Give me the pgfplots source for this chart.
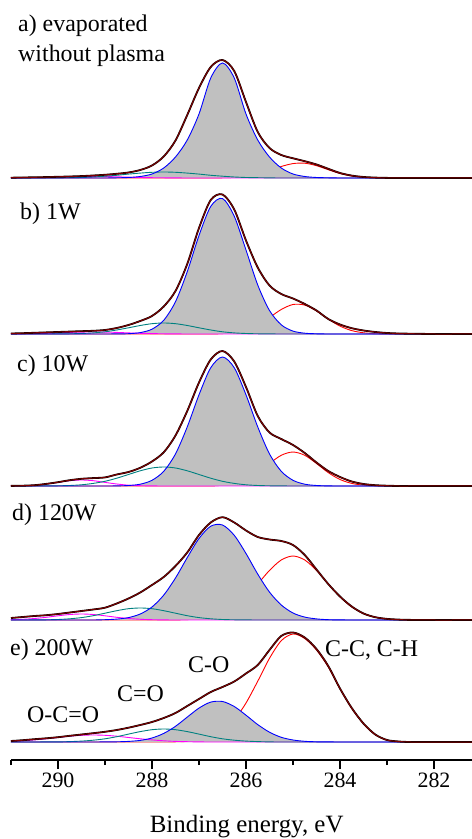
\documentclass[border=0pt]{standalone}
\usepackage{pgfplots}
\pgfplotsset{compat=1.18}
\usepackage{pgfplotstable}
\usepackage{fontspec}
\setmainfont{Liberation Serif}
\definecolor{cblue}{RGB}{0,0,255}
\definecolor{cred}{RGB}{255,0,0}
\definecolor{cteal}{RGB}{0,128,128}
\definecolor{cmag}{RGB}{255,0,255}
\definecolor{cdred}{RGB}{128,0,0}
\definecolor{csilver}{RGB}{192,192,192}

% columns: E = binding energy, B = C-O, R = C-C/C-H, T = C=O, M = O-C=O, S = measured/envelope
\pgfplotstableread{
E B R T M S
291.00 0 0 0 0.1 0.3
290.75 0 0 0 0.2 0.5
290.50 0 0 0 0.3 0.7
290.25 0 0 0 0.5 0.9
290.00 0 0 0.1 0.8 1.2
289.75 0 0 0.3 1.2 1.5
289.50 0 0 0.5 1.4 1.9
289.25 0 0 1.0 1.5 2.5
289.00 0 0 1.8 1.4 3.2
288.75 0.2 0 2.7 1.2 4.2
288.50 0.5 0 3.9 0.8 5.5
288.25 1.5 0 4.9 0.5 8.0
288.00 4.0 0 5.7 0.3 12.5
287.75 10.0 0 6.0 0.2 21.5
287.50 21.0 0 5.7 0.1 37.5
287.25 38.0 0 4.9 0 63.0
287.00 64.0 0 3.9 0 90.0
286.75 100.0 0 2.7 0 111.0
286.50 115.0 0.2 1.8 0 118.0
286.25 100.0 0.6 1.0 0 107.0
286.00 64.0 1.7 0.5 0 76.0
285.75 38.0 3.9 0.3 0 46.0
285.50 21.0 7.5 0.1 0 30.0
285.25 10.0 11.5 0 0 23.0
285.00 4.0 14.4 0 0 19.7
284.75 1.5 14.8 0 0 16.8
284.50 0.5 12.3 0 0 13.5
284.25 0.2 8.3 0 0 9.2
284.00 0 4.5 0 0 5.0
283.75 0 2.0 0 0 2.4
283.50 0 0.7 0 0 1.0
283.25 0 0.2 0 0 0.4
283.00 0 0 0 0 0.1
282.75 0 0 0 0 0
282.50 0 0 0 0 0
282.00 0 0 0 0 0
281.50 0 0 0 0 0
281.00 0 0 0 0 0
}\tabA

\pgfplotstableread{
E B R T M S
291.00 0 0 0 0.1 0.5
290.75 0 0 0 0.2 0.8
290.50 0 0 0 0.4 1.2
290.25 0 0 0 0.7 1.6
290.00 0 0 0.1 1.1 2.0
289.75 0 0 0.2 1.6 2.4
289.50 0 0 0.5 1.9 2.8
289.25 0 0 1.1 2.0 3.2
289.00 0 0 2.2 1.9 4.0
288.75 0.1 0 4.0 1.6 6.0
288.50 0.3 0 6.2 1.1 9.0
288.25 1.4 0 8.5 0.7 13.0
288.00 4.8 0 10.3 0.4 18.0
287.75 13.7 0 11.0 0.2 27.5
287.50 32.3 0 10.3 0.1 43.0
287.25 62.3 0 8.5 0 70.0
287.00 98.5 0 6.2 0 106.0
286.75 127.6 0 4.0 0 134.0
286.50 135.5 0.4 2.2 0 139.5
286.25 117.8 1.5 1.1 0 124.5
286.00 84.0 4.1 0.5 0 93.5
285.75 49.0 9.1 0.2 0 66.5
285.50 23.5 16.5 0.1 0 48.5
285.25 9.2 24.5 0 0 40.0
285.00 2.9 29.5 0 0 35.5
284.75 0.8 28.9 0 0 30.0
284.50 0.2 23.0 0 0 23.5
284.25 0 14.9 0 0 15.0
284.00 0 7.9 0 0 9.5
283.75 0 3.4 0 0 5.8
283.50 0 1.2 0 0 3.5
283.25 0 0.3 0 0 2.0
283.00 0 0.1 0 0 1.0
282.75 0 0 0 0 0.5
282.50 0 0 0 0 0.3
282.00 0 0 0 0 0
281.50 0 0 0 0 0
281.00 0 0 0 0 0
}\tabB

\pgfplotstableread{
E B R T M S
291.00 0 0 0 0.1 0.1
290.75 0 0 0 0.3 0.3
290.50 0 0 0 0.8 0.8
290.25 0 0 0.1 2.0 2.1
290.00 0 0 0.2 3.6 3.8
289.75 0 0 0.5 5.3 5.8
289.50 0 0 1.2 6.0 7.2
289.25 0 0 2.6 5.3 7.9
289.00 0 0 4.7 3.6 8.6
288.75 0.1 0 7.8 2.0 11.5
288.50 0.5 0 11.5 0.8 14.0
288.25 1.8 0 15.2 0.3 18.2
288.00 5.7 0 18.0 0.1 24.5
287.75 14.7 0 19.0 0 33.7
287.50 32.1 0 18.0 0 50.5
287.25 59.1 0 15.2 0 75.0
287.00 91.2 0 11.5 0 103.5
286.75 118.3 0 7.8 0 126.5
286.50 129.0 0.8 4.7 0 135.0
286.25 118.3 2.6 2.6 0 124.5
286.00 91.2 6.5 1.2 0 99.0
285.75 59.1 13.4 0.5 0 70.0
285.50 32.1 22.5 0.2 0 53.5
285.25 14.7 30.7 0.1 0 47.0
285.00 5.7 34.0 0 0 41.0
284.75 1.8 30.7 0 0 33.0
284.50 0.5 22.5 0 0 23.5
284.25 0.1 13.4 0 0 15.0
284.00 0 6.5 0 0 9.0
283.75 0 2.6 0 0 4.5
283.50 0 0.8 0 0 2.0
283.25 0 0.2 0 0 0.8
283.00 0 0 0 0 0.3
282.75 0 0 0 0 0
282.50 0 0 0 0 0
282.00 0 0 0 0 0
281.50 0 0 0 0 0
281.00 0 0 0 0 0
}\tabC

\pgfplotstableread{
E B R T M S
291.00 0 0 0 0.3 2.0
290.75 0 0 0 0.7 3.0
290.50 0 0 0.1 1.5 4.0
290.25 0 0 0.2 2.7 4.8
290.00 0 0 0.5 4.2 6.0
289.75 0 0 1.2 5.5 7.5
289.50 0 0 2.4 6.0 9.0
289.25 0 0 4.3 5.5 10.5
289.00 0.3 0 6.8 4.2 12.3
288.75 0.9 0 9.3 2.7 16.5
288.50 2.4 0 11.3 1.5 21.5
288.25 6.0 0 12.0 0.7 27.5
288.00 13.0 0 11.3 0.3 35.0
287.75 24.9 0 9.3 0.1 43.0
287.50 42.0 0.1 6.8 0 54.0
287.25 62.4 0.4 4.3 0 67.5
287.00 81.5 1.1 2.4 0 85.0
286.75 93.8 2.8 1.2 0 97.5
286.50 95.0 6.4 0.5 0 102.8
286.25 84.7 13.0 0.2 0 97.5
286.00 66.5 23.1 0.1 0 89.5
285.75 45.9 36.0 0 0 83.0
285.50 27.9 49.6 0 0 80.5
285.25 15.0 60.0 0 0 79.0
285.00 7.0 64.0 0 0 75.0
284.75 2.9 60.0 0 0 65.0
284.50 1.1 49.6 0 0 50.5
284.25 0.3 36.0 0 0 36.0
284.00 0.1 23.1 0 0 23.5
283.75 0 13.0 0 0 13.5
283.50 0 6.4 0 0 6.5
283.25 0 2.8 0 0 2.8
283.00 0 1.1 0 0 1.1
282.75 0 0.4 0 0 0.4
282.50 0 0.1 0 0 0.1
282.00 0 0 0 0 0
281.50 0 0 0 0 0
281.00 0 0 0 0 0
}\tabD

\pgfplotstableread{
E B R T M S
291.00 0 0 0 0.6 1.0
290.75 0 0 0 1.2 1.8
290.50 0 0 0 2.1 2.8
290.25 0 0 0.1 3.2 3.7
290.00 0 0 0.1 4.5 4.8
289.75 0 0 0.4 5.8 6.2
289.50 0 0 0.9 6.7 7.5
289.25 0 0 1.8 7.0 8.8
289.00 0.1 0 3.2 6.7 10.2
288.75 0.2 0 5.3 5.8 12.0
288.50 0.6 0 7.9 4.5 14.3
288.25 1.6 0 10.4 3.2 17.0
288.00 4.0 0 12.3 2.1 20.0
287.75 8.6 0.1 13.0 1.2 24.0
287.50 15.7 0.2 12.3 0.6 29.0
287.25 24.9 0.6 10.4 0.3 36.0
287.00 33.9 1.8 7.9 0.1 43.0
286.75 39.9 4.8 5.3 0 50.0
286.50 40.5 10.9 3.2 0 55.0
286.25 35.5 21.9 1.8 0 60.5
286.00 26.8 39.0 0.9 0 68.5
285.75 17.4 60.8 0.4 0 77.0
285.50 9.8 83.7 0.1 0 92.0
285.25 4.7 101.3 0 0 106.0
285.00 2.0 108.0 0 0 109.5
284.75 0.7 103.5 0 0 104.5
284.50 0.2 92.0 0 0 93.0
284.25 0.1 75.0 0 0 76.0
284.00 0 53.0 0 0 53.5
283.75 0 33.5 0 0 34.0
283.50 0 18.0 0 0 18.5
283.25 0 7.2 0 0 7.5
283.00 0 1.8 0 0 2.0
282.75 0 0.4 0 0 0.5
282.50 0 0 0 0 0
282.00 0 0 0 0 0
281.50 0 0 0 0 0
281.00 0 0 0 0 0
}\tabE

\pgfplotsset{
  panel/.style={x=47bp, y=1bp, xmin=281.2, xmax=291, x dir=reverse,
    ymin=0, ymax=150, hide axis, clip=false, anchor=south west},
  comp/.style={mark=none, smooth, line width=0.9bp},
}

\newcommand{\panel}[2]{%
\begin{axis}[panel, at={(0,#2)}]
\addplot[comp, cred] table[x=E,y=R]{#1};
\addplot[mark=none, smooth, fill=csilver, draw=none] table[x=E,y=B]{#1} \closedcycle;
\addplot[comp, cmag] table[x=E,y=M]{#1};
\addplot[comp, cteal] table[x=E,y=T]{#1};
\addplot[comp, cblue] table[x=E,y=B]{#1};
\addplot[mark=none, smooth, black, line width=1.8bp] table[x=E,y=S]{#1};
\addplot[mark=none, smooth, cdred, line width=1bp] table[x=E,y=S]{#1};
\end{axis}}

\begin{document}
\begin{tikzpicture}
\useasboundingbox (-11bp,-79bp) rectangle (461bp,760bp);
\begin{axis}[x=47bp, y=1bp, xmin=281.2, xmax=291, x dir=reverse,
  ymin=0, ymax=10, anchor=south west, at={(0,0)},
  axis x line=bottom, axis y line=none,
  x axis line style={-, line width=1.5bp},
  xtick={282,284,286,288,290}, minor xtick={281,283,...,291},
  xticklabels={282,284,286,288,290},
  tick align=outside, major tick length=9bp, minor tick length=5bp,
  every tick/.style={black, line width=1.5bp},
  xticklabel style={font=\fontsize{22}{22}\selectfont},
]
\end{axis}
\panel{\tabA}{582bp}
\panel{\tabB}{426bp}
\panel{\tabC}{274bp}
\panel{\tabD}{140bp}
\panel{\tabE}{18bp}
\begin{scope}[every node/.style={anchor=base west, inner sep=0pt, font=\fontsize{24}{24}\selectfont}]
\node at (7bp,728bp) {a) evaporated};
\node at (7bp,698bp) {without plasma};
\node at (9bp,540bp) {b) 1W};
\node at (6bp,388bp) {c) 10W};
\node at (1bp,239bp) {d) 120W};
\node at (-1bp,104bp) {e) 200W};
\node at (16bp,38bp) {O-C=O};
\node at (106bp,58bp) {C=O};
\node at (177bp,87bp) {C-O};
\node at (314bp,103bp) {C-C, C-H};
\node[anchor=base, font=\fontsize{25}{25}\selectfont] at (235.7bp,-72bp) {Binding energy, eV};
\end{scope}
\end{tikzpicture}
\end{document}
